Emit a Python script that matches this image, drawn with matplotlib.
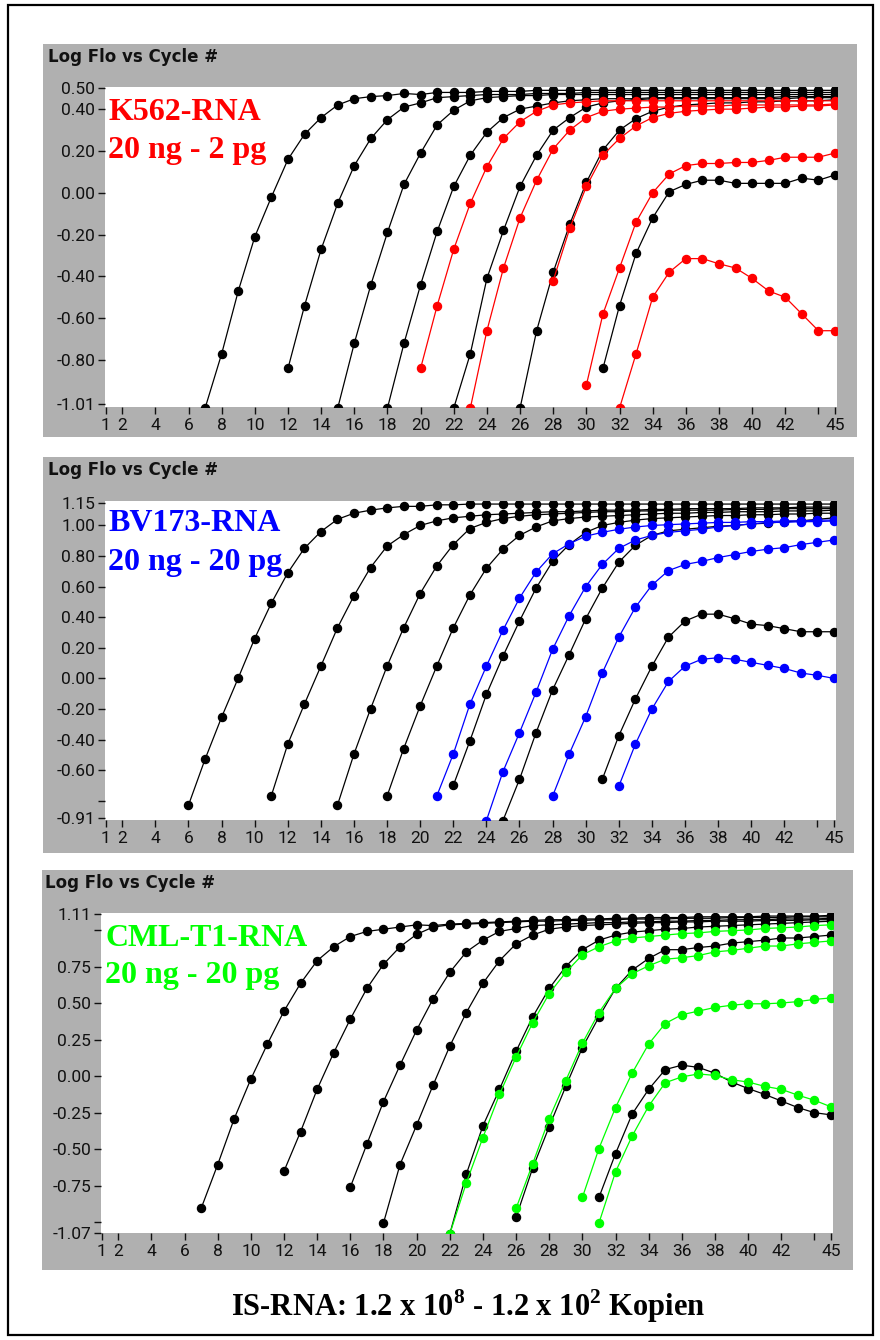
import matplotlib
matplotlib.use('Agg')
import matplotlib.pyplot as plt
from matplotlib.patches import Rectangle

W, H = 880, 1340
plt.rcParams['mathtext.fontset'] = 'custom'
plt.rcParams['mathtext.bf'] = 'Liberation Serif:bold'
plt.rcParams['mathtext.rm'] = 'Liberation Serif:bold'

# ---------------- data ----------------
cycle_ticks = [1, 2, 4, 6, 8, 10, 12, 14, 16, 18, 20, 22, 24, 26, 28, 30, 32, 34, 36, 38, 40, 42, 44, 45]
cycle_tick_labels = ['1', '2', '4', '6', '8', '10', '12', '14', '16', '18', '20', '22', '24', '26',
                     '28', '30', '32', '34', '36', '38', '40', '42', '', '45']

# Panel 1: K562-RNA
k562_yticks = [0.50, 0.40, 0.20, 0.00, -0.20, -0.40, -0.60, -0.80, -1.01]
k562_yticklabels = ['0.50', '0.40', '0.20', '0.00', '-0.20', '-0.40', '-0.60', '-0.80', '-1.01']
k562_std_start = [7, 12, 15, 18, 22, 26, 31]
k562_std = [
    [-1.03, -0.77, -0.47, -0.21, -0.02, 0.16, 0.28, 0.36, 0.42, 0.45, 0.46, 0.465, 0.475, 0.47, 0.48, 0.48,
     0.48, 0.485, 0.485, 0.485, 0.49, 0.49, 0.49, 0.49, 0.49, 0.49, 0.49, 0.49, 0.49, 0.49, 0.49, 0.49,
     0.49, 0.49, 0.49, 0.49, 0.49, 0.49, 0.49],
    [-0.84, -0.54, -0.27, -0.05, 0.13, 0.26, 0.35, 0.41, 0.43, 0.455, 0.46,
     0.465, 0.47, 0.47, 0.47, 0.475, 0.475, 0.475, 0.48, 0.48, 0.48, 0.48, 0.48, 0.48, 0.48, 0.48, 0.48,
     0.48, 0.48, 0.48, 0.48, 0.48, 0.48, 0.48],
    [-1.03, -0.72, -0.44, -0.19, 0.04, 0.19, 0.325, 0.395,
     0.44, 0.455, 0.46, 0.465, 0.465, 0.47, 0.47, 0.47, 0.47, 0.47, 0.47, 0.47, 0.47, 0.47, 0.47, 0.47,
     0.47, 0.47, 0.47, 0.47, 0.47, 0.47, 0.47],
    [-1.03, -0.72, -0.44, -0.185, 0.03, 0.18, 0.29, 0.36, 0.40, 0.415, 0.43,
     0.44, 0.445, 0.45, 0.45, 0.45, 0.455, 0.455, 0.455, 0.455, 0.455, 0.455, 0.455, 0.455, 0.46, 0.46,
     0.46, 0.46],
    [-1.03, -0.77, -0.41, -0.18, 0.03, 0.18, 0.30, 0.36, 0.41, 0.43, 0.44, 0.445, 0.45, 0.45, 0.45, 0.45,
     0.45, 0.45, 0.45, 0.45, 0.45, 0.455, 0.455, 0.455],
    [-1.03, -0.66, -0.38, -0.15, 0.05, 0.205, 0.30, 0.355, 0.39, 0.41, 0.42, 0.425, 0.43, 0.43, 0.435,
     0.435, 0.44, 0.44, 0.44, 0.445],
    [-0.84, -0.54, -0.29, -0.12, 0.005, 0.04, 0.06, 0.06, 0.045, 0.045, 0.045, 0.045, 0.07, 0.06, 0.085],
]
k562_rna_start = [20, 23, 28, 30, 32]
k562_rna = [
    [-0.84, -0.54, -0.27, -0.05, 0.125, 0.26, 0.34, 0.39, 0.42, 0.43, 0.435, 0.44, 0.44, 0.44, 0.44,
     0.44, 0.44, 0.44, 0.44, 0.44, 0.44, 0.44, 0.44, 0.44, 0.44, 0.44],
    [-1.03, -0.66, -0.36, -0.12, 0.06, 0.21, 0.30, 0.36, 0.39, 0.40, 0.405, 0.41, 0.41, 0.415, 0.415,
     0.415, 0.42, 0.42, 0.42, 0.42, 0.42, 0.42, 0.425],
    [-0.42, -0.17, 0.03, 0.18, 0.26, 0.32, 0.36, 0.38, 0.39, 0.395, 0.40, 0.40, 0.405, 0.41, 0.41, 0.415,
     0.415, 0.42],
    [-0.92, -0.58, -0.36, -0.14, 0.0, 0.09, 0.13, 0.14, 0.14, 0.145, 0.145, 0.155, 0.17, 0.17, 0.17, 0.19],
    [-1.03, -0.77, -0.50, -0.38, -0.315, -0.315, -0.34, -0.36, -0.41, -0.47, -0.50, -0.58, -0.66, -0.66],
]

# Panel 2: BV173-RNA
bv_yticks = [1.15, 1.00, 0.80, 0.60, 0.40, 0.20, 0.00, -0.20, -0.40, -0.60, -0.80, -0.91]
bv_yticklabels = ['1.15', '1.00', '0.80', '0.60', '0.40', '0.20', '0.00', '-0.20', '-0.40', '-0.60', '', '-0.91']
bv_std_start = [6, 11, 15, 18, 22, 25, 31]
bv_std = [
    [-0.83, -0.53, -0.255, 0.0, 0.26, 0.49, 0.69, 0.85, 0.96, 1.04, 1.08, 1.10, 1.115, 1.125, 1.125, 1.135,
     1.135, 1.14, 1.14, 1.14, 1.14, 1.14, 1.14, 1.14, 1.14, 1.14, 1.14, 1.14, 1.14, 1.14, 1.14, 1.14,
     1.14, 1.14, 1.14, 1.14, 1.14, 1.14, 1.14, 1.14],
    [-0.77, -0.43, -0.17, 0.08, 0.33, 0.54, 0.725, 0.865, 0.94, 1.0, 1.03, 1.05,
     1.06, 1.07, 1.075, 1.08, 1.085, 1.09, 1.09, 1.095, 1.10, 1.10, 1.10, 1.105, 1.105, 1.11, 1.11, 1.11,
     1.11, 1.115, 1.115, 1.115, 1.12, 1.12, 1.12],
    [-0.83, -0.495, -0.20, 0.08, 0.33, 0.555, 0.735, 0.875,
     0.98, 1.02, 1.045, 1.06, 1.07, 1.075, 1.08, 1.085, 1.09, 1.09, 1.095, 1.095, 1.10, 1.10, 1.10, 1.10,
     1.105, 1.105, 1.105, 1.11, 1.11, 1.11, 1.11],
    [-0.77, -0.46, -0.18, 0.08, 0.33, 0.545, 0.72, 0.845, 0.935, 0.99, 1.03, 1.045, 1.055, 1.06, 1.065,
     1.07, 1.075, 1.08, 1.08, 1.085, 1.085, 1.09, 1.09, 1.09, 1.095, 1.095, 1.095, 1.10],
    [-0.70, -0.41, -0.105, 0.145, 0.375, 0.59, 0.765, 0.875, 0.955, 1.0, 1.02, 1.035, 1.045, 1.05, 1.055,
     1.06, 1.065, 1.065, 1.07, 1.07, 1.075, 1.075, 1.08, 1.08],
    [-0.93, -0.66, -0.355, -0.075, 0.155, 0.39, 0.59, 0.76, 0.87, 0.935, 0.965, 0.975, 0.985, 0.995, 1.0,
     1.01, 1.015, 1.025, 1.03, 1.04, 1.05],
    [-0.66, -0.375, -0.135, 0.08, 0.27, 0.375, 0.42, 0.42, 0.39, 0.355, 0.345, 0.325, 0.305, 0.305, 0.305],
]
bv_rna_start = [21, 24, 28, 32]
bv_rna = [
    [-0.77, -0.495, -0.17, 0.08, 0.315, 0.525, 0.695, 0.815, 0.88, 0.93, 0.955, 0.975, 0.99, 1.0, 1.005,
     1.01, 1.015, 1.02, 1.02, 1.025, 1.025, 1.03, 1.03, 1.035, 1.035],
    [-0.93, -0.61, -0.355, -0.09, 0.19, 0.41, 0.60, 0.745, 0.85, 0.905, 0.935, 0.955, 0.965, 0.975, 0.99,
     1.0, 1.01, 1.02, 1.02, 1.025, 1.025, 1.03],
    [-0.77, -0.495, -0.25, 0.035, 0.27, 0.465, 0.61, 0.705, 0.745, 0.765, 0.79, 0.81, 0.83, 0.845, 0.855,
     0.875, 0.89, 0.905],
    [-0.705, -0.43, -0.20, -0.02, 0.08, 0.125, 0.135, 0.125, 0.105, 0.085, 0.065, 0.035, 0.02, 0.0],
]

# Panel 3: CML-T1-RNA
cml_yticks = [1.11, 1.00, 0.75, 0.50, 0.25, 0.00, -0.25, -0.50, -0.75, -1.00, -1.07]
cml_yticklabels = ['1.11', '', '0.75', '0.50', '0.25', '0.00', '-0.25', '-0.50', '-0.75', '', '-1.07']
cml_std_start = [7, 12, 16, 18, 22, 26, 31]
cml_std = [
    [-0.905, -0.605, -0.29, -0.02, 0.22, 0.445, 0.635, 0.79, 0.885, 0.955, 0.99, 1.005, 1.02, 1.035, 1.03,
     1.04, 1.045, 1.05, 1.055, 1.06, 1.065, 1.07, 1.07, 1.075, 1.075, 1.08, 1.08, 1.085, 1.085, 1.085,
     1.09, 1.09, 1.09, 1.09, 1.095, 1.095, 1.095, 1.095, 1.10],
    [-0.65, -0.38, -0.09, 0.16, 0.39, 0.60, 0.765, 0.885, 0.97, 1.02, 1.035,
     1.04, 1.045, 1.05, 1.055, 1.06, 1.06, 1.065, 1.065, 1.07, 1.07, 1.075, 1.075, 1.075, 1.08, 1.08,
     1.08, 1.085, 1.085, 1.085, 1.085, 1.09, 1.09, 1.09],
    [-0.76, -0.465, -0.175, 0.075, 0.315, 0.53, 0.71,
     0.85, 0.93, 0.99, 1.01, 1.03, 1.035, 1.04, 1.045, 1.05, 1.05, 1.055, 1.055, 1.06, 1.06, 1.065,
     1.065, 1.07, 1.07, 1.07, 1.075, 1.075, 1.075, 1.08],
    [-1.005, -0.605, -0.335, -0.06, 0.205, 0.435, 0.635, 0.79, 0.905, 0.965, 1.005, 1.02, 1.03, 1.035,
     1.04, 1.045, 1.05, 1.05, 1.055, 1.055, 1.06, 1.06, 1.06, 1.065, 1.065, 1.065, 1.07, 1.07],
    [-1.08, -0.67, -0.34, -0.09, 0.17, 0.405, 0.60, 0.75, 0.865, 0.93, 0.965, 0.985, 0.995, 1.005, 1.01,
     1.02, 1.025, 1.03, 1.035, 1.04, 1.045, 1.05, 1.055, 1.06],
    [-0.965, -0.63, -0.345, -0.07, 0.195, 0.405, 0.60, 0.725, 0.805, 0.865, 0.865, 0.88, 0.89, 0.91, 0.92,
     0.93, 0.945, 0.945, 0.955, 0.965],
    [-0.83, -0.53, -0.26, -0.09, 0.045, 0.075, 0.06, 0.02, -0.04, -0.085, -0.125, -0.17, -0.215, -0.25,
     -0.265],
]
cml_rna_start = [22, 26, 30, 31]
cml_rna = [
    [-1.08, -0.73, -0.42, -0.125, 0.13, 0.365, 0.565, 0.71, 0.83, 0.885, 0.925, 0.945, 0.955, 0.965, 0.975,
     0.98, 0.99, 0.995, 1.0, 1.01, 1.015, 1.02, 1.03, 1.035],
    [-0.905, -0.60, -0.29, -0.03, 0.225, 0.435, 0.60, 0.70, 0.755, 0.80, 0.81, 0.825, 0.85, 0.86, 0.875,
     0.89, 0.89, 0.905, 0.915, 0.925],
    [-0.83, -0.495, -0.215, 0.02, 0.22, 0.36, 0.42, 0.445, 0.47, 0.485, 0.495, 0.495, 0.50, 0.51, 0.525,
     0.535],
    [-1.005, -0.655, -0.41, -0.205, -0.045, -0.005, 0.015, 0.005, -0.025, -0.04, -0.07, -0.09, -0.13,
     -0.165, -0.21],
]

panels = [
    dict(ax=(105, 87, 837, 407), gray=(43, 44, 857, 437), ylim=(-1.025, 0.506),
         yticks=k562_yticks, ytl=k562_yticklabels, std_start=k562_std_start, std=k562_std,
         rna_start=k562_rna_start, rna=k562_rna, color='#ff0000',
         title_xy=(48, 57), lab1='K562-RNA', lab2='20 ng - 2 pg', lab_x=108, lab_y=(120, 158)),
    dict(ax=(105, 501, 836, 820), gray=(43, 457, 854, 853), ylim=(-0.926, 1.16),
         yticks=bv_yticks, ytl=bv_yticklabels, std_start=bv_std_start, std=bv_std,
         rna_start=bv_rna_start, rna=bv_rna, color='#0000ff',
         title_xy=(48, 470), lab1='BV173-RNA', lab2='20 ng - 20 pg', lab_x=108, lab_y=(531, 570)),
    dict(ax=(101, 913, 833, 1233), gray=(42, 870, 853, 1270), ylim=(-1.073, 1.116),
         yticks=cml_yticks, ytl=cml_yticklabels, std_start=cml_std_start, std=cml_std,
         rna_start=cml_rna_start, rna=cml_rna, color='#00ff00',
         title_xy=(45, 883), lab1='CML-T1-RNA', lab2='20 ng - 20 pg', lab_x=105, lab_y=(946, 983)),
]

fig = plt.figure(figsize=(W / 100, H / 100), dpi=100, facecolor='white')


def fx(x):
    return x / W


def fy(y):
    return 1 - y / H


# outer black frame
fig.add_artist(Rectangle((fx(8), fy(1335)), (873 - 8) / W, (1335 - 5) / H, transform=fig.transFigure,
                         fill=False, edgecolor='black', linewidth=1.6, zorder=-2))

for p in panels:
    gx0, gy0, gx1, gy1 = p['gray']
    fig.add_artist(Rectangle((fx(gx0), fy(gy1)), (gx1 - gx0) / W, (gy1 - gy0) / H,
                             transform=fig.transFigure, facecolor='#b0b0b0', edgecolor='none', zorder=-1))
    x0, y0, x1, y1 = p['ax']
    ax = fig.add_axes([fx(x0), fy(y1), (x1 - x0) / W, (y1 - y0) / H])
    ax.set_facecolor('white')
    for s in ax.spines.values():
        s.set_visible(False)
    ax.set_xlim(0.96, 45.12)
    ax.set_ylim(*p['ylim'])
    ax.set_xticks(cycle_ticks)
    ax.set_xticklabels(cycle_tick_labels)
    ax.set_yticks(p['yticks'])
    ax.set_yticklabels(p['ytl'])
    ax.tick_params(axis='x', direction='out', length=5, width=1, pad=3, labelsize=12.5,
                   colors='#111111')
    ax.tick_params(axis='y', direction='out', length=5, width=1, pad=2, labelsize=12.5,
                   colors='#111111')
    for lab in ax.get_xticklabels() + ax.get_yticklabels():
        lab.set_family('Roboto')

    for start, vals in zip(p['std_start'], p['std']):
        cyc = list(range(start, start + len(vals)))
        ax.plot(cyc, vals, color='black', lw=0.9, marker='o', ms=5.8, mec='black', mfc='black', zorder=3)
    for start, vals in zip(p['rna_start'], p['rna']):
        cyc = list(range(start, start + len(vals)))
        ax.plot(cyc, vals, color=p['color'], lw=0.9, marker='o', ms=5.8, mec=p['color'],
                mfc=p['color'], zorder=4)

    tx, ty = p['title_xy']
    fig.text(fx(tx), fy(ty), 'Log Flo vs Cycle #', family='DejaVu Sans', weight='bold', size=12,
             ha='left', va='center', color='#111111')
    fig.text(fx(p['lab_x']), fy(p['lab_y'][0]), p['lab1'], family='Liberation Serif', weight='bold',
             size=23, color=p['color'], ha='left', va='baseline', zorder=10)
    fig.text(fx(p['lab_x']), fy(p['lab_y'][1]), p['lab2'], family='Liberation Serif', weight='bold',
             size=23, color=p['color'], ha='left', va='baseline', zorder=10)

fig.text(fx(468), fy(1316), r'IS-RNA: 1.2 x 10$^{\mathbf{8}}$ - 1.2 x 10$^{\mathbf{2}}$ Kopien',
         family='Liberation Serif', weight='bold', size=22, ha='center', va='baseline', color='black')

fig.savefig('out.png', dpi=100, facecolor='white')
